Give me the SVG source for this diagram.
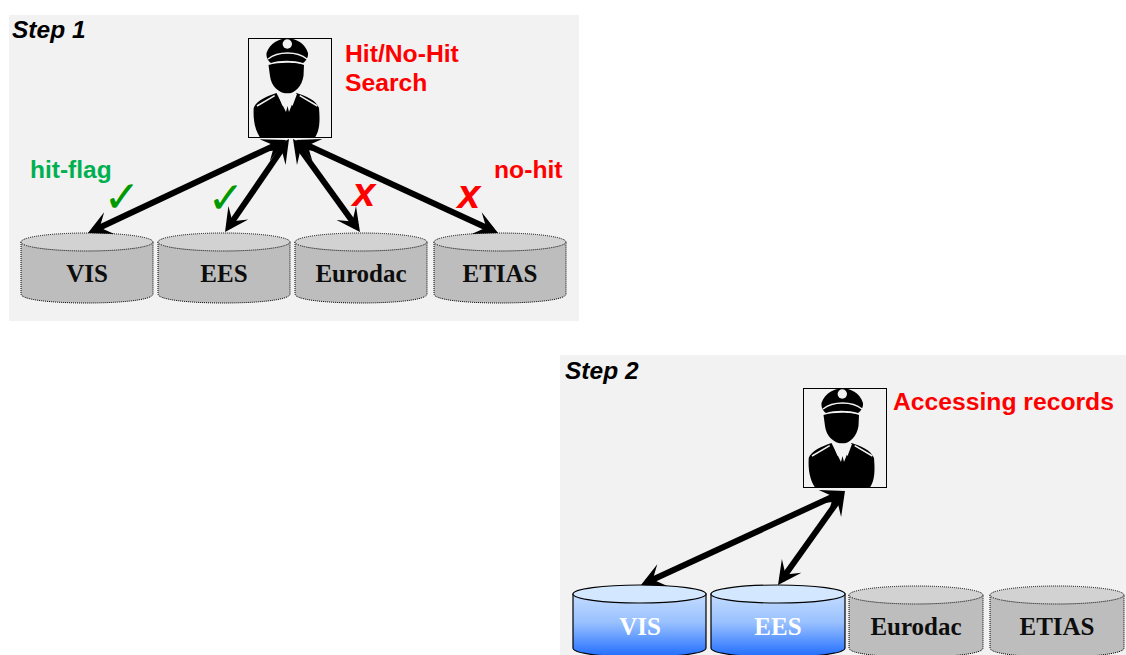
<svg xmlns="http://www.w3.org/2000/svg" width="1126" height="655" viewBox="0 0 1126 655">
<style>
.panel{fill:#f2f2f2}
.body{fill:#bdbdbd;stroke:#000;stroke-width:1;stroke-dasharray:1 1}
.top{fill:#d2d2d2;stroke:#000;stroke-width:1;stroke-dasharray:1 1}
.bodyB{fill:url(#blue);stroke:#000;stroke-width:1.2}
.topB{fill:#d3e7ff;stroke:#000;stroke-width:1.2}
.db{font:bold 25px "Liberation Serif",serif;text-anchor:middle;fill:#0d0d0d}
.dbW{font:bold 25px "Liberation Serif",serif;text-anchor:middle;fill:#fff}
.step{font:italic bold 24.5px "Liberation Sans",sans-serif;fill:#000}
.red{font:bold 24.700px "Liberation Sans",sans-serif;fill:#f00}
.green{font:bold 24.500px "Liberation Sans",sans-serif;fill:#00b050}
.chk{font:italic bold 44px "DejaVu Sans",sans-serif;fill:#009900;text-anchor:middle}
.x{font:italic bold 41px "Liberation Sans",sans-serif;fill:#f00;text-anchor:middle}
.arrow{stroke:#000;stroke-width:6;fill:none;marker-start:url(#head);marker-end:url(#head)}
</style>
<defs>
<linearGradient id="blue" x1="0" y1="0" x2="0" y2="1">
<stop offset="0" stop-color="#c4dcff"/><stop offset="0.45" stop-color="#99c1ff"/><stop offset="1" stop-color="#1f6cff"/>
</linearGradient>
<marker id="head" markerUnits="userSpaceOnUse" markerWidth="30" markerHeight="30" refX="20" refY="15" orient="auto-start-reverse" viewBox="0 0 30 30">
<path d="M26 15 L2.500 3 L13 15 L2.500 27 Z" fill="#000"/>
</marker>
<symbol id="officer" viewBox="0 0 84 100" overflow="visible">
<rect x="0.5" y="0.5" width="83" height="99" fill="#f2f2f2" stroke="#000"/>
<path d="M18.500 15 C22 5 31 0.500 39.500 0.500 C48 0.500 57 5 60 15 C60.500 19 58 23 55 25 C46 22 31 22 23 25 C20 23 18 19 18.500 15Z" fill="#000"/>
<circle cx="39.300" cy="6" r="4.700" fill="#f2f2f2"/>
<path d="M20 21 C30 13 49 13 59 21" fill="none" stroke="#f2f2f2" stroke-width="1.500"/>
<path d="M20.500 27 C30 24 49 24 56 27 L55.500 38 C54 48 47 55.500 39.500 55.500 C31 55.500 23 48 22 38Z" fill="#000"/>
<path d="M28.500 55 L38 74 L39.500 68 L41 74 L48.500 55 C58 58 68 62 71 70 C72 82 72 92 67 99.500 L12 99.500 C7 92 5 82 5.700 70 C8 63 19 58 28.500 55Z" fill="#000"/>
<path d="M30 56 L34.500 68 L39.500 58 L44.500 68 L49 56 L39.500 55.500Z" fill="#f2f2f2"/>
<path d="M9 68 L26.700 57.700 M69.400 68 L51.700 57.700" stroke="#f2f2f2" stroke-width="1.500" fill="none"/>
</symbol>
</defs>

<rect class="panel" x="9" y="15" width="570" height="306"/>
<rect class="panel" x="560" y="355" width="566" height="300"/>
<text class="step" x="12" y="38">Step 1</text>
<text class="step" x="565" y="379">Step 2</text>

<g id="officer-1"><use href="#officer" x="248" y="38" width="84" height="100"/></g>
<g id="officer-2"><use href="#officer" x="803" y="388" width="84" height="100"/></g>

<g id="db-vis-1">
<path class="body" d="M21 242 V294 C21 306 153 306 153 294 V242Z"/><ellipse class="top" cx="87" cy="242" rx="66" ry="9"/>
<text class="db" x="87" y="282">VIS</text></g>
<g id="db-ees-1">
<path class="body" d="M158 242 V294 C158 306 290 306 290 294 V242Z"/><ellipse class="top" cx="224" cy="242" rx="66" ry="9"/>
<text class="db" x="224" y="282">EES</text></g>
<g id="db-eurodac-1">
<path class="body" d="M295 242 V294 C295 306 427 306 427 294 V242Z"/><ellipse class="top" cx="361" cy="242" rx="66" ry="9"/>
<text class="db" x="361" y="282">Eurodac</text></g>
<g id="db-etias-1">
<path class="body" d="M434 242 V294 C434 306 566 306 566 294 V242Z"/><ellipse class="top" cx="500" cy="242" rx="66" ry="9"/>
<text class="db" x="500" y="282">ETIAS</text></g>

<g id="db-vis-2">
<path class="bodyB" d="M573 594 V648 C573 660 706 660 706 648 V594Z"/><ellipse class="topB" cx="639.500" cy="594" rx="66.500" ry="9"/>
<text class="dbW" x="640" y="635">VIS</text></g>
<g id="db-ees-2">
<path class="bodyB" d="M711 594 V648 C711 660 845 660 845 648 V594Z"/><ellipse class="topB" cx="778" cy="594" rx="67" ry="9"/>
<text class="dbW" x="778" y="635">EES</text></g>
<g id="db-eurodac-2">
<path class="body" d="M849 595 V648 C849 660 983 660 983 648 V595Z"/><ellipse class="top" cx="916" cy="595" rx="67" ry="9"/>
<text class="db" x="916" y="635">Eurodac</text></g>
<g id="db-etias-2">
<path class="body" d="M990 595 V648 C990 660 1124 660 1124 648 V595Z"/><ellipse class="top" cx="1057" cy="595" rx="67" ry="9"/>
<text class="db" x="1057" y="635">ETIAS</text></g>

<g id="connectors">
<line class="arrow" x1="280.600" y1="142.600" x2="93.400" y2="230.500"/>
<line class="arrow" x1="285.600" y1="143.900" x2="228.400" y2="227.100"/>
<line class="arrow" x1="296.500" y1="143.900" x2="356.500" y2="227.100"/>
<line class="arrow" x1="301.400" y1="142.500" x2="492.600" y2="230.500"/>
<line class="arrow" x1="839.600" y1="493.500" x2="646.400" y2="582.500"/>
<line class="arrow" x1="841.500" y1="495.900" x2="781.500" y2="580.100"/>
</g>

<g id="labels">
<text class="red" x="345" y="62">Hit/No-Hit</text>
<text class="red" x="345" y="91">Search</text>
<text class="red" x="893" y="410">Accessing records</text>
<text class="green" x="30" y="178">hit-flag</text>
<text class="red" x="494" y="178">no-hit</text>
<text class="chk" x="122" y="212">✓</text>
<text class="chk" x="226" y="213">✓</text>
<text class="x" x="364" y="206">x</text>
<text class="x" x="469" y="208">x</text>
</g>
</svg>
